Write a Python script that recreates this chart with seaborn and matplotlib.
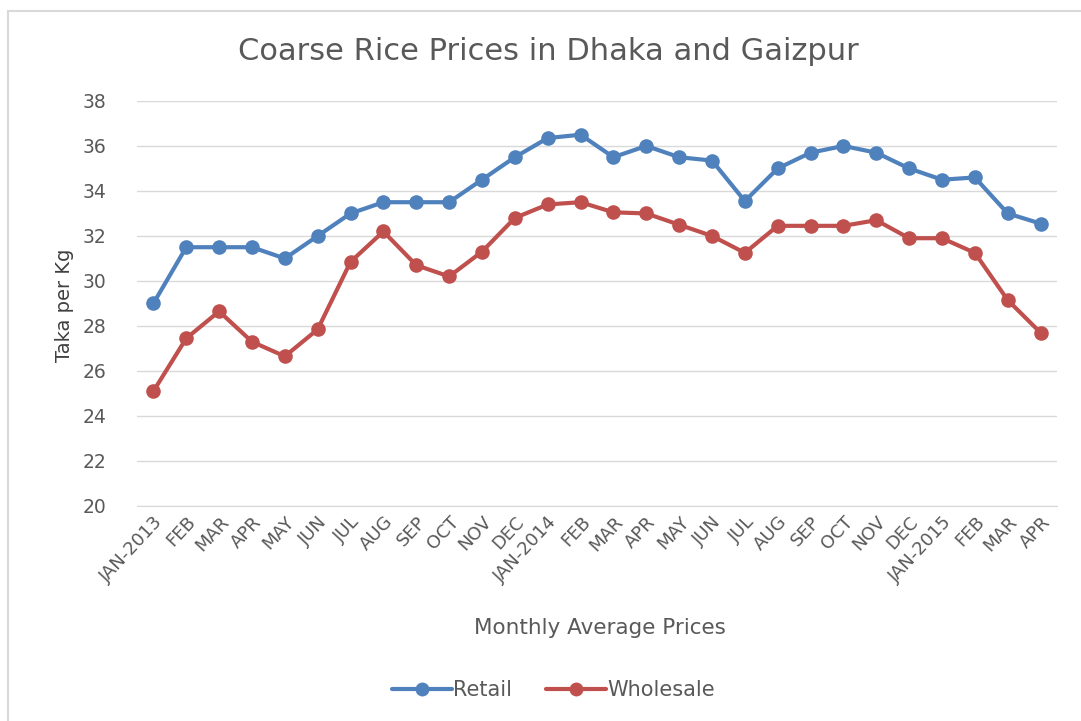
import matplotlib
matplotlib.use('Agg')
import matplotlib.pyplot as plt
from matplotlib.lines import Line2D
import numpy as np
import pandas as pd
import seaborn as sns

months = ['JAN-2013', 'FEB', 'MAR', 'APR', 'MAY', 'JUN', 'JUL', 'AUG', 'SEP', 'OCT',
          'NOV', 'DEC', 'JAN-2014', 'FEB', 'MAR', 'APR', 'MAY', 'JUN', 'JUL', 'AUG',
          'SEP', 'OCT', 'NOV', 'DEC', 'JAN-2015', 'FEB', 'MAR', 'APR']
retail = [29.0, 31.5, 31.5, 31.5, 31.0, 32.0, 33.0, 33.5, 33.5, 33.5,
          34.5, 35.5, 36.35, 36.5, 35.5, 36.0, 35.5, 35.35, 33.55, 35.0,
          35.7, 36.0, 35.7, 35.0, 34.5, 34.6, 33.0, 32.55]
wholesale = [25.1, 27.45, 28.65, 27.3, 26.65, 27.85, 30.85, 32.2, 30.7, 30.2,
             31.3, 32.8, 33.4, 33.5, 33.05, 33.0, 32.5, 32.0, 31.25, 32.45,
             32.45, 32.45, 32.7, 31.9, 31.9, 31.25, 29.15, 27.7]
series = ['Retail', 'Wholesale']
colors = ['#4F81BD', '#C0504D']

pos = np.arange(len(months))
df = pd.DataFrame({
    'pos': np.concatenate([pos, pos]),
    'price': retail + wholesale,
    'series': ['Retail'] * len(months) + ['Wholesale'] * len(months),
})

sns.set_style('white')
plt.rcParams['font.family'] = ['DejaVu Sans']

fig = plt.figure(figsize=(10.81, 7.21), dpi=100)
ax = fig.add_axes([0.1267, 0.2982, 0.8511, 0.5618])

sns.lineplot(data=df, x='pos', y='price', hue='series', hue_order=series,
             palette=colors, marker='o', markersize=10.5, markeredgewidth=0,
             linewidth=3, ax=ax, legend=False)

ax.set_xlim(-0.5, len(months) - 0.5)
ax.set_ylim(20, 38)
ax.set_yticks(np.arange(20, 39, 2))
ax.yaxis.grid(True, color='#D9D9D9', linewidth=1)
ax.set_axisbelow(True)
for s in ax.spines.values():
    s.set_visible(False)
ax.spines['bottom'].set_visible(True)
ax.spines['bottom'].set_color('#D9D9D9')

ax.set_xticks(pos)
ax.set_xticklabels(months, rotation=47, ha='right', rotation_mode='anchor',
                   fontsize=13, color='#595959')
ax.tick_params(axis='y', labelsize=13.5, labelcolor='#595959', length=0, pad=22)
ax.tick_params(axis='x', length=0, pad=5)
ax.set_xlabel('')
ax.set_ylabel('')

fig.text(0.507, 0.928, 'Coarse Rice Prices in Dhaka and Gaizpur', fontsize=22,
         color='#595959', ha='center', va='center')
fig.text(0.555, 0.129, 'Monthly Average Prices', fontsize=15.5,
         color='#595959', ha='center', va='center')
fig.text(0.060, 0.577, 'Taka per Kg', fontsize=14, color='#404040',
         rotation=90, ha='center', va='center')

handles = [plt.Line2D([], [], color=c, marker='o', markersize=10, linewidth=3,
                      markeredgewidth=0) for c in colors]
fig.legend(handles, series, loc='center', bbox_to_anchor=(0.512, 0.043), ncol=2,
           frameon=False, fontsize=15, handlelength=2.9, handletextpad=0.05,
           columnspacing=1.6, labelcolor='#595959')

# light frame round the chart, only top and left edges show
fx = 8 / 1081
fy = 1 - 11 / 721
fig.add_artist(Line2D([fx, fx], [0.0, fy], transform=fig.transFigure,
                      color='#D9D9D9', linewidth=1.5))
fig.add_artist(Line2D([fx, 1.0], [fy, fy], transform=fig.transFigure,
                      color='#D9D9D9', linewidth=1.5))

fig.savefig('out.png', dpi=100, facecolor='white')
